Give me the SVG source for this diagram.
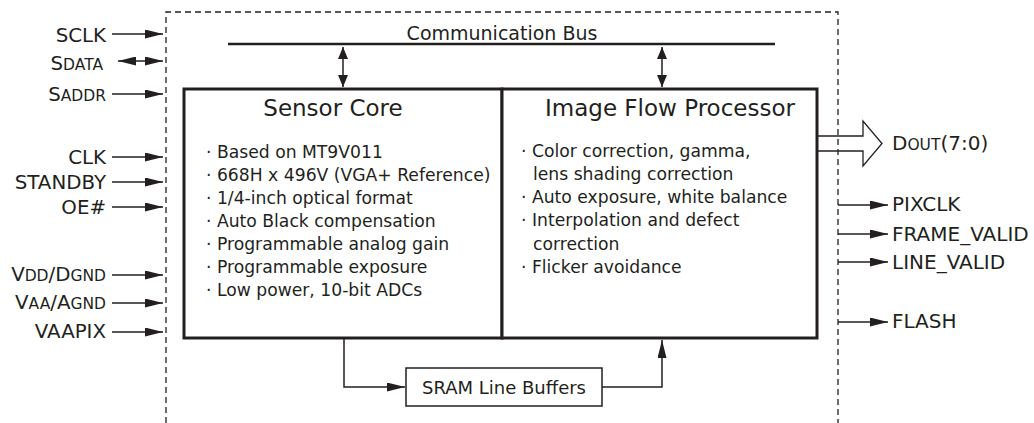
<svg xmlns="http://www.w3.org/2000/svg" width="1034" height="423" viewBox="0 0 1034 423">
<style>
text{font-family:"DejaVu Sans","Liberation Sans",sans-serif;fill:#231f20}
.sig{font-size:19.8px;text-anchor:end}
.sigr{font-size:20px}
.sc{font-size:15.5px}
.bul{font-size:17.2px}
.title{font-size:23px;text-anchor:middle}
.ln{stroke:#231f20;stroke-width:1.5;fill:none}
.box{stroke:#231f20;stroke-width:3;fill:#fff}
</style>
<defs>
<marker id="ah" markerUnits="userSpaceOnUse" markerWidth="18" markerHeight="9" refX="18" refY="4.5" orient="auto-start-reverse"><path d="M0,0 L18,4.5 L0,9 z" fill="#231f20"/></marker>
<marker id="ahs" markerUnits="userSpaceOnUse" markerWidth="12" markerHeight="10" refX="12" refY="5" orient="auto-start-reverse"><path d="M0,0 L12,5 L0,10 z" fill="#231f20"/></marker>
</defs>
<rect width="1034" height="423" fill="#fff"/>
<path id="boundary" d="M166,423 V12 H838 V423" fill="none" stroke="#231f20" stroke-width="1.3" stroke-dasharray="6,4"/>

<g id="bus">
<line x1="228" y1="44" x2="775" y2="44" stroke="#231f20" stroke-width="2.5"/>
<text x="502" y="40" text-anchor="middle" style="font-size:19px">Communication Bus</text>
</g>

<g id="sensor-core">
<rect class="box" x="184" y="89" width="318" height="249"/>
<text class="title" x="333" y="116">Sensor Core</text>
<text class="bul" x="206" y="158">· Based on MT9V011</text>
<text class="bul" x="206" y="181">· 668H x 496V (VGA+ Reference)</text>
<text class="bul" x="206" y="204">· 1/4-inch optical format</text>
<text class="bul" x="206" y="227">· Auto Black compensation</text>
<text class="bul" x="206" y="250">· Programmable analog gain</text>
<text class="bul" x="206" y="273">· Programmable exposure</text>
<text class="bul" x="206" y="296">· Low power, 10-bit ADCs</text>
</g>

<g id="ifp">
<rect class="box" x="502" y="89" width="315" height="249"/>
<text class="title" x="670" y="116">Image Flow Processor</text>
<text class="bul" x="521" y="157">· Color correction, gamma,</text>
<text class="bul" x="533" y="180">lens shading correction</text>
<text class="bul" x="521" y="203">· Auto exposure, white balance</text>
<text class="bul" x="521" y="226">· Interpolation and defect</text>
<text class="bul" x="533" y="250">correction</text>
<text class="bul" x="521" y="273">· Flicker avoidance</text>
</g>

<g id="sram">
<rect x="406" y="368" width="196" height="38" fill="#fff" stroke="#231f20" stroke-width="1.5"/>
<text x="504" y="394" text-anchor="middle" style="font-size:18px">SRAM Line Buffers</text>
</g>

<g id="left-signals">
<text class="sig" x="106" y="42">SCLK</text>
<text class="sig" x="103" y="70">S<tspan class="sc">DATA</tspan></text>
<text class="sig" x="106" y="101">S<tspan class="sc">ADDR</tspan></text>
<text class="sig" x="106" y="164">CLK</text>
<text class="sig" x="106" y="189">STANDBY</text>
<text class="sig" x="106" y="214">OE#</text>
<text class="sig" x="106" y="281">V<tspan class="sc">DD</tspan>/D<tspan class="sc">GND</tspan></text>
<text class="sig" x="106" y="309">V<tspan class="sc">AA</tspan>/A<tspan class="sc">GND</tspan></text>
<text class="sig" x="106" y="338">VAAPIX</text>
</g>

<g id="right-signals">
<text class="sigr" x="892" y="150">D<tspan class="sc">OUT</tspan>(7:0)</text>
<text class="sigr" x="892" y="211">PIXCLK</text>
<text class="sigr" x="892" y="241">FRAME_VALID</text>
<text class="sigr" x="892" y="269">LINE_VALID</text>
<text class="sigr" x="892" y="328">FLASH</text>
</g>

<g id="connectors">
<line class="ln" x1="112" y1="34" x2="163" y2="34" marker-end="url(#ah)"/>
<line class="ln" x1="118" y1="61" x2="163" y2="61" marker-start="url(#ah)" marker-end="url(#ah)"/>
<line class="ln" x1="112" y1="94" x2="163" y2="94" marker-end="url(#ah)"/>
<line class="ln" x1="112" y1="157" x2="163" y2="157" marker-end="url(#ah)"/>
<line class="ln" x1="112" y1="182" x2="163" y2="182" marker-end="url(#ah)"/>
<line class="ln" x1="112" y1="207" x2="163" y2="207" marker-end="url(#ah)"/>
<line class="ln" x1="112" y1="275" x2="163" y2="275" marker-end="url(#ah)"/>
<line class="ln" x1="112" y1="303" x2="163" y2="303" marker-end="url(#ah)"/>
<line class="ln" x1="112" y1="332" x2="163" y2="332" marker-end="url(#ah)"/>

<line class="ln" x1="343" y1="47" x2="343" y2="87" marker-start="url(#ahs)" marker-end="url(#ahs)"/>
<line class="ln" x1="662" y1="47" x2="662" y2="87" marker-start="url(#ahs)" marker-end="url(#ahs)"/>

<path d="M818,136 H863 V121 L882,143.5 L863,166 V151 H818" fill="none" stroke="#231f20" stroke-width="1.3"/>

<line class="ln" x1="838" y1="205" x2="888" y2="205" marker-end="url(#ah)"/>
<line class="ln" x1="838" y1="234" x2="888" y2="234" marker-end="url(#ah)"/>
<line class="ln" x1="838" y1="262" x2="888" y2="262" marker-end="url(#ah)"/>
<line class="ln" x1="838" y1="322" x2="888" y2="322" marker-end="url(#ah)"/>

<path class="ln" d="M344,339 V387 H405" marker-end="url(#ah)"/>
<path class="ln" d="M602,387 H662 V340" marker-end="url(#ah)"/>
</g>
</svg>
